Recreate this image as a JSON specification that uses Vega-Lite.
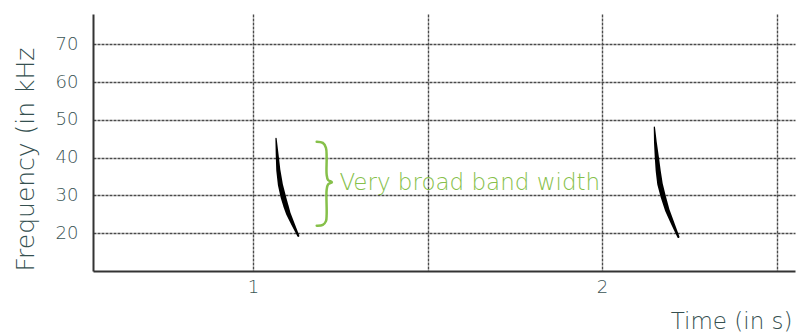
{
  "$schema": "https://vega.github.io/schema/vega-lite/v6.json",
  "autosize": {"type": "none"},
  "width": 702,
  "height": 257,
  "padding": {"left": 93, "top": 14, "right": 14, "bottom": 63},
  "background": "white",
  "config": {
    "view": {"stroke": null},
    "font": "DejaVu Sans",
    "axis": {
      "domainColor": "#333333",
      "domainWidth": 2,
      "gridColor": "#4a4a4a",
      "gridDash": [3, 1],
      "gridWidth": 1.4,
      "ticks": false,
      "labelFont": "DejaVu Sans",
      "labelFontWeight": 200,
      "labelColor": "#3a5454",
      "labelFontSize": 18,
      "titleFont": "DejaVu Sans",
      "titleFontWeight": 200,
      "titleColor": "#355050",
      "titleFontSize": 23
    }
  },
  "datasets": {
    "calls": [
      {"call": "A", "seq": 1, "time": 1.0659, "freq": 45.1, "energy": 0.05},
      {"call": "A", "seq": 2, "time": 1.0690, "freq": 41.0, "energy": 0.4},
      {"call": "A", "seq": 3, "time": 1.0725, "freq": 36.7, "energy": 0.7},
      {"call": "A", "seq": 4, "time": 1.0785, "freq": 32.8, "energy": 0.9},
      {"call": "A", "seq": 5, "time": 1.0868, "freq": 29.6, "energy": 1.0},
      {"call": "A", "seq": 6, "time": 1.0940, "freq": 27.3, "energy": 0.95},
      {"call": "A", "seq": 7, "time": 1.1011, "freq": 25.2, "energy": 0.8},
      {"call": "A", "seq": 8, "time": 1.1150, "freq": 22.3, "energy": 0.55},
      {"call": "A", "seq": 9, "time": 1.1298, "freq": 19.3, "energy": 0.25},
      {"call": "B", "seq": 1, "time": 2.150, "freq": 48.1, "energy": 0.05},
      {"call": "B", "seq": 2, "time": 2.153, "freq": 44.0, "energy": 0.4},
      {"call": "B", "seq": 3, "time": 2.157, "freq": 40.2, "energy": 0.7},
      {"call": "B", "seq": 4, "time": 2.161, "freq": 36.5, "energy": 0.9},
      {"call": "B", "seq": 5, "time": 2.166, "freq": 33.1, "energy": 1.0},
      {"call": "B", "seq": 6, "time": 2.176, "freq": 29.5, "energy": 0.95},
      {"call": "B", "seq": 7, "time": 2.187, "freq": 26.1, "energy": 0.8},
      {"call": "B", "seq": 8, "time": 2.203, "freq": 22.5, "energy": 0.55},
      {"call": "B", "seq": 9, "time": 2.219, "freq": 19.0, "energy": 0.25}
    ],
    "brace": [
      {"seq": 1, "time": 1.1825, "freq": 44.2},
      {"seq": 2, "time": 1.200, "freq": 43.9},
      {"seq": 3, "time": 1.209, "freq": 42.6},
      {"seq": 4, "time": 1.211, "freq": 40.0},
      {"seq": 5, "time": 1.211, "freq": 35.5},
      {"seq": 6, "time": 1.215, "freq": 34.1},
      {"seq": 7, "time": 1.226, "freq": 33.5},
      {"seq": 8, "time": 1.215, "freq": 32.9},
      {"seq": 9, "time": 1.211, "freq": 31.5},
      {"seq": 10, "time": 1.211, "freq": 25.0},
      {"seq": 11, "time": 1.209, "freq": 23.2},
      {"seq": 12, "time": 1.200, "freq": 22.2},
      {"seq": 13, "time": 1.1825, "freq": 22.0}
    ],
    "note": [
      {"time": 1.2475, "freq": 33.3, "label": "Very broad band width"}
    ]
  },
  "encoding": {
    "x": {
      "field": "time",
      "type": "quantitative",
      "scale": {"domain": [0.5415, 2.553], "nice": false, "zero": false},
      "axis": {
        "title": "Time (in s)",
        "values": [1, 1.5, 2, 2.5],
        "labelExpr": "datum.value % 1 === 0 ? format(datum.value, 'd') : ''",
        "labelPadding": 7,
        "titleAnchor": "end",
        "titleAlign": "right",
        "titleBaseline": "alphabetic",
        "titleY": 57,
        "titleX": 699
      }
    },
    "y": {
      "field": "freq",
      "type": "quantitative",
      "scale": {"domain": [10, 78], "nice": false, "zero": false},
      "axis": {
        "title": "Frequency (in kHz",
        "titleFontSize": 25,
        "values": [20, 30, 40, 50, 60, 70],
        "labelPadding": 15,
        "titleAngle": -90,
        "titleAlign": "left",
        "titleBaseline": "alphabetic",
        "titleX": -60,
        "titleY": 257
      }
    }
  },
  "layer": [
    {
      "data": {"name": "calls"},
      "mark": {"type": "trail", "color": "#000000"},
      "encoding": {
        "detail": {"field": "call"},
        "order": {"field": "seq", "type": "quantitative"},
        "size": {"field": "energy", "type": "quantitative", "scale": {"domain": [0, 1], "range": [1, 5.5]}, "legend": null}
      }
    },
    {
      "data": {"name": "brace"},
      "mark": {"type": "line", "color": "#86c04a", "strokeWidth": 2.5, "interpolate": "catmull-rom", "strokeCap": "round"},
      "encoding": {
        "order": {"field": "seq", "type": "quantitative"}
      }
    },
    {
      "data": {"name": "note"},
      "mark": {"type": "text", "color": "#86c04a", "fontSize": 23, "font": "DejaVu Sans", "fontWeight": 200, "align": "left", "baseline": "middle"},
      "encoding": {
        "text": {"field": "label"}
      }
    }
  ]
}
